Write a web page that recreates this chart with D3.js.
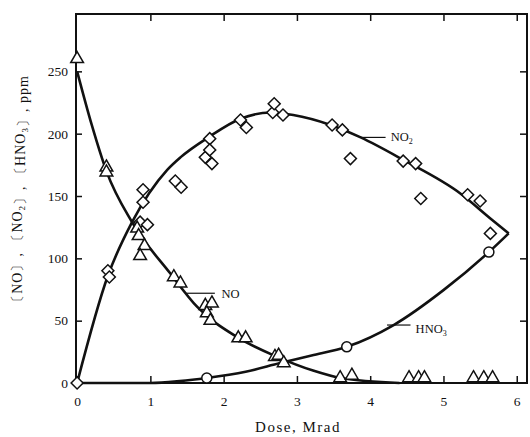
<!DOCTYPE html>
<html>
<head>
<meta charset="utf-8">
<script src="https://cdn.jsdelivr.net/npm/d3@7"></script>
<style>
  html, body { margin: 0; padding: 0; background: #fff; }
  svg { display: block; }
  text { font-family: "Liberation Serif", "Times New Roman", serif; fill: #111; }
</style>
</head>
<body>
<svg id="chart" width="530" height="437"></svg>
<script>
// Measured concentrations versus dose (Mrad, ppm)
const no2Dose = [0, 0.42, 0.44, 0.90, 0.90, 0.86, 0.96, 1.34, 1.42, 1.75, 1.81, 1.81, 1.84, 2.23, 2.31, 2.67, 2.69, 2.81, 3.48, 3.62, 3.73, 4.45, 4.62, 4.69, 5.33, 5.50, 5.64];
const no2Ppm  = [0, 90, 85, 155, 145, 129, 127, 162, 157, 181, 196, 187, 176, 211, 205, 217, 224, 215, 207, 203, 180, 178, 176, 148, 151, 146, 120];

const noDose = [0, 0.40, 0.40, 0.82, 0.84, 0.92, 0.86, 1.32, 1.41, 1.75, 1.84, 1.77, 1.82, 2.20, 2.30, 2.70, 2.75, 2.82, 3.59, 3.75, 4.53, 4.66, 4.74, 5.41, 5.55, 5.67];
const noPpm  = [260, 173, 169, 124, 118, 110, 102, 85, 80, 62, 64, 56, 50, 36, 36, 21, 22, 16, 4, 6, 4, 4, 4, 4, 4, 4];

const hno3Dose = [1.77, 3.68, 5.62];
const hno3Ppm  = [4, 29, 105];

// Fitted curves
const no2FitDose = [0, 0.42, 0.75, 1.23, 1.41, 1.79, 2.23, 2.64, 2.95, 3.46, 3.87, 4.45, 5.23, 5.64, 5.89];
const no2FitPpm  = [0, 86, 129, 171, 181, 197, 212, 217, 215, 207, 197, 179, 152, 132, 120];

const noFitDose = [0, 0.2, 0.40, 0.75, 1.27, 1.64, 2.18, 2.73, 3.22, 3.60, 4.40];
const noFitPpm  = [250, 207, 170, 129, 88, 61, 37, 21, 10, 4, 0];

const hno3FitDose = [0, 1.0, 1.4, 1.77, 2.3, 2.77, 3.2, 3.68, 4.32, 5.0, 5.62, 5.89];
const hno3FitPpm  = [0, 0, 1.5, 4, 9, 16, 22, 29, 46.5, 74.5, 105, 120];

// Axis ticks
const xTicks = [0, 1, 2, 3, 4, 5, 6];
const yTicks = [0, 50, 100, 150, 200, 250];

const svg = d3.select("#chart");
const x = d3.scaleLinear().domain([-0.015, 6.14]).range([76, 527]);
const y = d3.scaleLinear().domain([0, 296]).range([383, 14]);

const toPts = (xs, ys) => xs.map((d, i) => [d, ys[i]]);
const line = d3.line().x(d => x(d[0])).y(d => y(d[1])).curve(d3.curveMonotoneX);

// Frame
svg.append("rect")
  .attr("x", x.range()[0]).attr("y", y.range()[1])
  .attr("width", x.range()[1] - x.range()[0])
  .attr("height", y.range()[0] - y.range()[1])
  .attr("fill", "none").attr("stroke", "#111").attr("stroke-width", 2);

// Axes with inward ticks
const axBottom = svg.append("g").attr("transform", `translate(0,${y(0)})`)
  .call(d3.axisBottom(x).tickValues(xTicks).tickSize(-7).tickPadding(13).tickFormat(d3.format("d")));
const axTop = svg.append("g").attr("transform", `translate(0,${y.range()[1]})`)
  .call(d3.axisTop(x).tickValues(xTicks.slice(1)).tickSize(-7).tickFormat(""));
const axLeft = svg.append("g").attr("transform", `translate(${x.range()[0]},0)`)
  .call(d3.axisLeft(y).tickValues(yTicks).tickSize(-6).tickPadding(8));
const axRight = svg.append("g").attr("transform", `translate(${x.range()[1]},0)`)
  .call(d3.axisRight(y).tickValues(yTicks.slice(1)).tickSize(-7).tickFormat(""));

[axBottom, axTop, axLeft, axRight].forEach(g => {
  g.select(".domain").remove();
  g.selectAll(".tick line").attr("stroke", "#111").attr("stroke-width", 1.5);
  g.selectAll("text").attr("font-size", 13.5).attr("font-family", "Liberation Serif, serif").attr("fill", "#111");
});

// Fitted curves
[[no2FitDose, no2FitPpm], [noFitDose, noFitPpm], [hno3FitDose, hno3FitPpm]].forEach(([xs, ys]) => {
  svg.append("path").attr("d", line(toPts(xs, ys)))
    .attr("fill", "none").attr("stroke", "#111").attr("stroke-width", 2.6)
    .attr("stroke-linejoin", "round");
});

// Series labels with leader lines
function label(x1, x2, yv, tx, ty, main, sub) {
  svg.append("line").attr("x1", x(x1)).attr("x2", x(x2)).attr("y1", y(yv)).attr("y2", y(yv))
    .attr("stroke", "#111").attr("stroke-width", 1.2);
  const t = svg.append("text").attr("x", x(tx)).attr("y", y(ty)).attr("font-size", 12.5);
  t.append("tspan").text(main);
  if (sub) t.append("tspan").attr("font-size", 8).attr("dy", 3).text(sub);
}
label(3.87, 4.21, 197, 4.28, 194, "NO", "2");
label(1.49, 1.88, 72, 1.97, 68, "NO", null);
label(4.23, 4.55, 46.5, 4.62, 40, "HNO", "3");

// Markers
const sym = (type, size) => d3.symbol().type(type).size(size);
svg.append("g").selectAll("path").data(toPts(no2Dose, no2Ppm)).join("path")
  .attr("d", sym(d3.symbolSquare, 72)())
  .attr("transform", d => `translate(${x(d[0])},${y(d[1])}) rotate(45)`)
  .attr("fill", "#fff").attr("stroke", "#111").attr("stroke-width", 1.5);
svg.append("g").selectAll("path").data(toPts(noDose, noPpm)).join("path")
  .attr("d", sym(d3.symbolTriangle, 70)())
  .attr("transform", d => `translate(${x(d[0])},${y(d[1])})`)
  .attr("fill", "#fff").attr("stroke", "#111").attr("stroke-width", 1.5);
svg.append("g").selectAll("circle").data(toPts(hno3Dose, hno3Ppm)).join("circle")
  .attr("cx", d => x(d[0])).attr("cy", d => y(d[1])).attr("r", 5)
  .attr("fill", "#fff").attr("stroke", "#111").attr("stroke-width", 1.5);

// Axis titles
svg.append("text").attr("x", 298).attr("y", 432).attr("text-anchor", "middle")
  .attr("font-size", 15).attr("letter-spacing", 1.5).text("Dose,  Mrad");

const yt = svg.append("text").attr("transform", "translate(22,192) rotate(-90)")
  .attr("text-anchor", "middle").attr("font-size", 14).attr("letter-spacing", 1);
[["〔NO〕, ", null], ["〔NO", "2"], ["〕, 〔HNO", "3"], ["〕,  ppm", null]].forEach(([m, s]) => {
  yt.append("tspan").text(m);
  if (s) {
    yt.append("tspan").attr("font-size", 9).attr("dy", 3).text(s);
    yt.append("tspan").attr("dy", -3).text("");
  }
});
</script>
</body>
</html>
